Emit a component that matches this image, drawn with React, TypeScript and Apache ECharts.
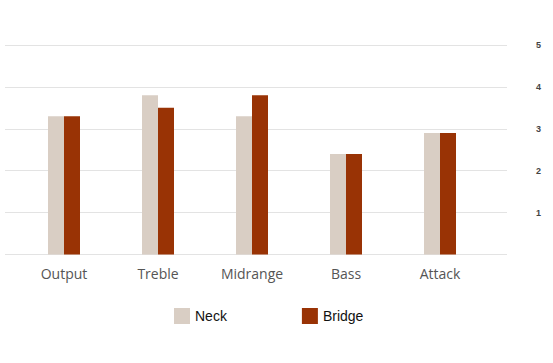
import React, { useEffect, useRef } from "react";
import * as echarts from "echarts";

const categories = ["Output", "Treble", "Midrange", "Bass", "Attack"];
const neckValues = [3.3, 3.8, 3.3, 2.4, 2.9];
const bridgeValues = [3.3, 3.5, 3.8, 2.4, 2.9];
const seriesNames = ["Neck", "Bridge"];

export default function App() {
  const ref = useRef<HTMLDivElement>(null);
  useEffect(() => {
    if (!ref.current) return;
    const chart = echarts.init(ref.current, null, { renderer: "svg" });
    const top = 45;
    const bottom = 363 - 254.5;
    chart.setOption({
      animation: false,
      backgroundColor: "#ffffff",
      legend: {
        left: 169,
        top: 303,
        itemWidth: 16,
        itemHeight: 16,
        itemGap: 75,
        icon: "rect",
        data: seriesNames,
        textStyle: {
          fontFamily: "Liberation Sans",
          fontSize: 14,
          color: "#111111",
        },
      },
      grid: [
        { left: 5, right: 46, top, bottom },
        { left: 17, right: 66, top, bottom },
      ],
      xAxis: [
        { type: "value", gridIndex: 0, show: false, min: 0, max: 1 },
        {
          type: "category",
          gridIndex: 1,
          data: categories,
          axisLine: { show: false },
          axisTick: { show: false },
          axisLabel: {
            margin: 12,
            fontFamily: "Open Sans",
            fontSize: 14,
            color: "#555555",
          },
        },
      ],
      yAxis: [
        {
          type: "value",
          gridIndex: 0,
          position: "right",
          min: 0,
          max: 5,
          interval: 1,
          axisLine: { show: false },
          axisTick: { show: false },
          splitLine: { lineStyle: { color: "#e3e3e3", width: 1 } },
          axisLabel: {
            margin: 29,
            fontFamily: "Liberation Sans",
            fontWeight: "bold",
            fontSize: 9,
            color: "#444444",
            formatter: (v: number) => (v === 0 ? "" : String(v)),
          },
        },
        {
          type: "value",
          gridIndex: 1,
          min: 0,
          max: 5,
          interval: 1,
          show: false,
          splitLine: { show: false },
        },
      ],
      series: [
        {
          name: seriesNames[0],
          type: "bar",
          xAxisIndex: 1,
          yAxisIndex: 1,
          data: neckValues,
          barWidth: 16,
          barGap: "0%",
          itemStyle: { color: "#d9cec4" },
        },
        {
          name: seriesNames[1],
          type: "bar",
          xAxisIndex: 1,
          yAxisIndex: 1,
          data: bridgeValues,
          barWidth: 16,
          barGap: "0%",
          itemStyle: { color: "#993305" },
        },
      ],
    });
    return () => chart.dispose();
  }, []);
  return (
    <div
      ref={ref}
      style={{ position: "fixed", left: 0, top: 0, width: 553, height: 363 }}
    />
  );
}
